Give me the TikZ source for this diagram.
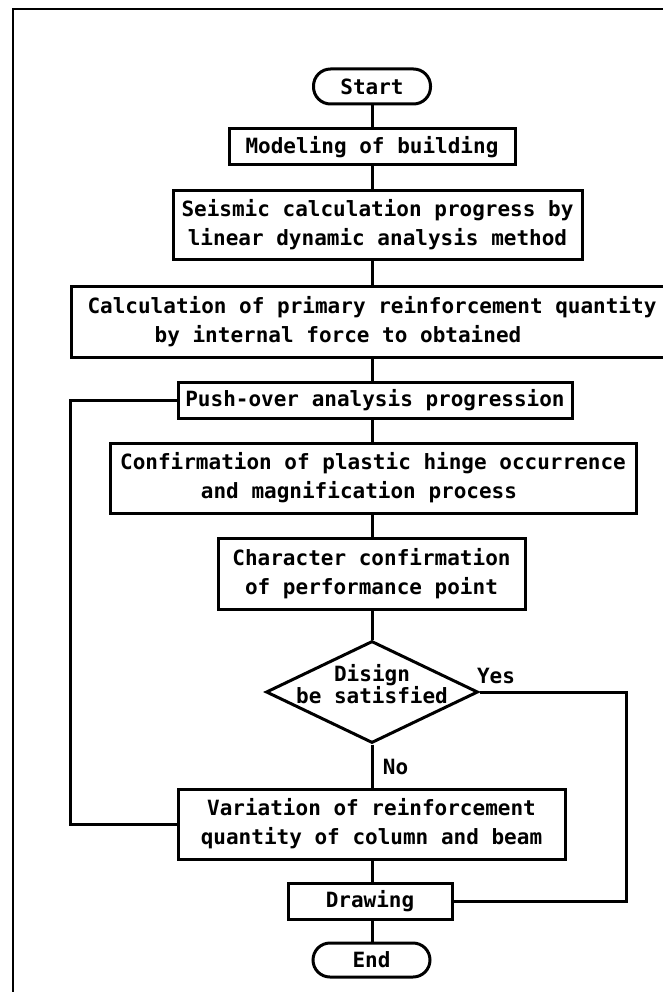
\documentclass[tikz,border=0pt]{standalone}
\usepackage{fontspec}
\setmonofont{DejaVu Sans Mono}
\usetikzlibrary{shapes.geometric}

\begin{document}
\begin{tikzpicture}[x=1pt,y=-1pt,
		font=\ttfamily\bfseries\fontsize{21}{29}\selectfont,
		box/.style={draw,line width=3pt,align=center,inner sep=0pt},
		term/.style={box,rounded corners=17pt},
		link/.style={line width=3pt}]
	\useasboundingbox (0,0) rectangle (663,992);
	\clip (0,0) rectangle (663,992);
	\draw [line width=1.5pt] (13,9) rectangle (700,1020);
	\node [term,minimum width=117pt,minimum height=35pt] (start) at (372,86.5) {Start};
	\node [box,minimum width=286pt,minimum height=36pt] (model) at (372,147) {Modeling of building};
	\node [box,minimum width=409pt,minimum height=68pt] (seis) at (377.5,225) {Seismic calculation progress by\\linear dynamic analysis method};
	\node [box,minimum width=602pt,minimum height=71pt] (calc) at (372,321.5) {Calculation of primary reinforcement quantity\\by internal force to obtained\hspace*{68pt}\null};
	\node [box,minimum width=394pt,minimum height=36pt] (push) at (375,400) {Push-over analysis progression};
	\node [box,minimum width=526pt,minimum height=70pt] (conf) at (373,478) {Confirmation of plastic hinge occurrence\\and magnification process\hspace*{28pt}\null};
	\node [box,minimum width=307pt,minimum height=71pt] (perf) at (371.5,573.5) {Character confirmation\\of performance point};
	\node [diamond,draw,line width=3pt,minimum width=212pt,minimum height=102pt,inner sep=0pt] (sat) at (372,692) {};
	\node [align=center,inner sep=0pt,font=\ttfamily\bfseries\fontsize{21}{21}\selectfont] (satText) at (372,684) {Disign\\be satisfied};
	\node [box,minimum width=387pt,minimum height=70pt] (vari) at (371.5,824) {Variation of reinforcement\\quantity of column and beam};
	\node [box,minimum width=164pt,minimum height=36pt] (drw) at (370,901) {Drawing};
	\node [term,minimum width=117pt,minimum height=34pt] (stop) at (371.5,960) {End};
	\node (yesLbl) at (496,676) {Yes};
	\node (noLbl) at (395.5,767) {No};
	\foreach \a/\b in {start/model,model/seis,seis/calc,calc/push,push/conf,conf/perf,perf/sat,sat/vari,vari/drw,drw/stop}
		\draw [link] (start |- \a.south) -- (start |- \b.north);
	\draw [link] (vari.west) -- ++(-106,0) |- (push.west);
	\draw [link] (sat.east) -- ++(147,0) |- (drw.east);
\end{tikzpicture}
\end{document}
